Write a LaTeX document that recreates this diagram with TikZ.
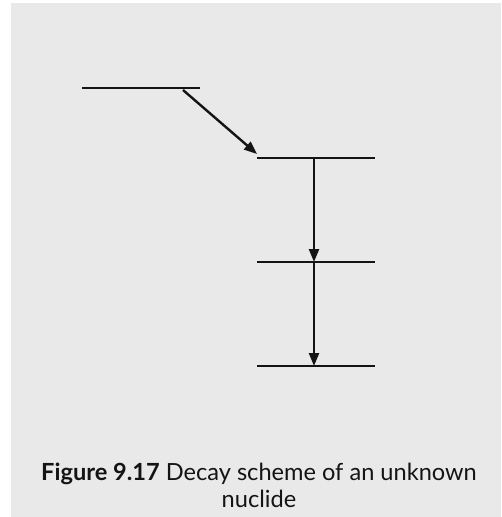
\documentclass[tikz,border=0pt]{standalone}
\usepackage{fontspec}
\setmainfont{Lato}
\usetikzlibrary{arrows.meta}
\definecolor{bggray}{HTML}{E9E9E9}
\definecolor{ink}{HTML}{141414}
\begin{document}
\begin{tikzpicture}[x=1pt,y=-1pt,
  level/.style={draw=ink,line width=2.5pt},
  decay/.style={draw=ink,line width=2.4pt,-{Triangle[length=13pt,width=10pt]}},
  caption/.style={font=\fontsize{23.6}{27}\selectfont,align=center,inner sep=0pt,text=ink}]
\useasboundingbox (0,0) rectangle (501,517);
\fill[white] (0,0) rectangle (501,517);
\fill[bggray] (11,3) rectangle (501,517);
% level end points
\coordinate (a1) at (82,88);   \coordinate (a2) at (200,88);
\coordinate (b1) at (257,158); \coordinate (b2) at (375,158);
\coordinate (c1) at (257,262); \coordinate (c2) at (375,262);
\coordinate (d1) at (257,366); \coordinate (d2) at (375,366);
\coordinate (bs) at (314,158); \coordinate (ct) at (314,262);
\coordinate (cs) at (314,262); \coordinate (dt) at (314,366);
\coordinate (as) at (183,90);  \coordinate (bt) at (257,154);
\draw[level] (a1) -- (a2);
\draw[level] (b1) -- (b2);
\draw[level] (c1) -- (c2);
\draw[level] (d1) -- (d2);
\draw[decay] (as) -- (bt);
\draw[decay] (bs) -- (ct);
\draw[decay] (cs) -- (dt);
\node[caption,anchor=base] (cap) at (259,507) {\textbf{Figure 9.17} Decay scheme of an unknown\\nuclide};
\end{tikzpicture}
\end{document}
